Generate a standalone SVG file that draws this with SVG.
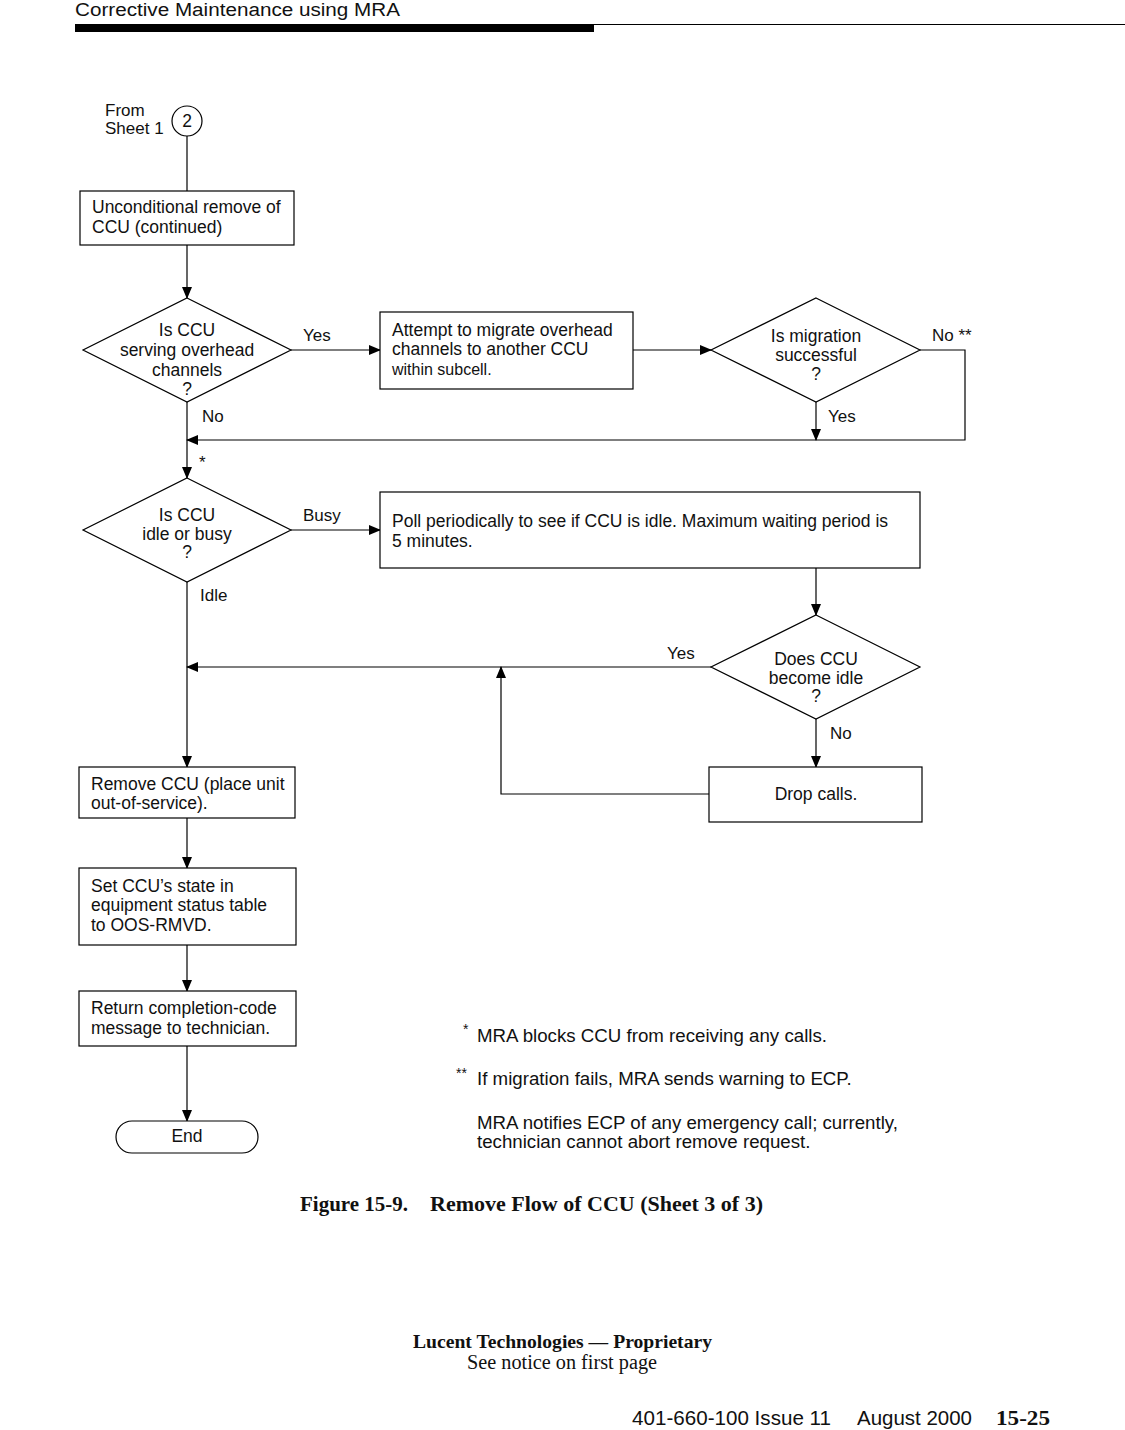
<svg xmlns="http://www.w3.org/2000/svg" width="1125" height="1430" viewBox="0 0 1125 1430">
<defs>
<marker id="arr" markerWidth="12" markerHeight="10" refX="11" refY="5" orient="auto" markerUnits="userSpaceOnUse">
<path d="M0,0 L12,5 L0,10 Z" fill="#000"/>
</marker>
</defs>
<style>
.t{font-family:"Liberation Sans",Arial,sans-serif;font-size:17.5px;fill:#111}
.l{font-size:17px}
.c{text-anchor:middle}
.box{fill:#fff;stroke:#000;stroke-width:1.2}
.ln{fill:none;stroke:#000;stroke-width:1.2}
.s{font-family:"Liberation Serif","Times New Roman",serif;fill:#111}
.n{font-size:18.7px}
</style>
<rect width="1125" height="1430" fill="#fff"/>
<!-- header -->
<text x="75" y="16" class="t" style="font-size:18px" textLength="325" lengthAdjust="spacingAndGlyphs">Corrective Maintenance using MRA</text>
<line x1="75" y1="24.5" x2="1125" y2="24.5" stroke="#000" stroke-width="1"/>
<rect x="75" y="25" width="519" height="7" fill="#000"/>

<g id="connectors">
<line class="ln" x1="187" y1="136" x2="187" y2="191"/>
<line class="ln" x1="187" y1="245" x2="187" y2="298" marker-end="url(#arr)"/>
<line class="ln" x1="291" y1="350" x2="380" y2="350" marker-end="url(#arr)"/>
<line class="ln" x1="633" y1="350" x2="711" y2="350" marker-end="url(#arr)"/>
<polyline class="ln" points="920,350 965,350 965,440 187,440" marker-end="url(#arr)"/>
<line class="ln" x1="816" y1="402" x2="816" y2="440" marker-end="url(#arr)"/>
<line class="ln" x1="187" y1="402" x2="187" y2="478" marker-end="url(#arr)"/>
<line class="ln" x1="291" y1="530" x2="380" y2="530" marker-end="url(#arr)"/>
<line class="ln" x1="816" y1="568" x2="816" y2="615" marker-end="url(#arr)"/>
<line class="ln" x1="711" y1="667" x2="187" y2="667" marker-end="url(#arr)"/>
<polyline class="ln" points="709,794 501,794 501,667" marker-end="url(#arr)"/>
<line class="ln" x1="816" y1="719" x2="816" y2="767" marker-end="url(#arr)"/>
<line class="ln" x1="187" y1="582" x2="187" y2="767" marker-end="url(#arr)"/>
<line class="ln" x1="187" y1="818" x2="187" y2="868" marker-end="url(#arr)"/>
<line class="ln" x1="187" y1="945" x2="187" y2="991" marker-end="url(#arr)"/>
<line class="ln" x1="187" y1="1046" x2="187" y2="1121" marker-end="url(#arr)"/>
<text x="303" y="341" class="t l">Yes</text>
<text x="932" y="341" class="t l">No **</text>
<text x="828" y="422" class="t l">Yes</text>
<text x="202" y="422" class="t l">No</text>
<text x="199" y="468" class="t l">*</text>
<text x="303" y="521" class="t l">Busy</text>
<text x="200" y="601" class="t l">Idle</text>
<text x="667" y="659" class="t l">Yes</text>
<text x="830" y="739" class="t l">No</text>
</g>

<g id="start">
<circle cx="187" cy="121" r="15" class="box"/>
<text x="187" y="127" class="t c">2</text>
<text x="105" y="116" class="t l">From</text>
<text x="105" y="134" class="t l">Sheet 1</text>
</g>
<g id="box-unconditional">
<rect x="80" y="191" width="214" height="54" class="box"/>
<text x="92" y="213" class="t">Unconditional remove of</text>
<text x="92" y="233" class="t">CCU (continued)</text>
</g>
<g id="dec-overhead">
<polygon points="187,298 291,350 187,402 83,350" class="box"/>
<text x="187" y="336" class="t c">Is CCU</text>
<text x="187" y="356" class="t c">serving overhead</text>
<text x="187" y="376" class="t c">channels</text>
<text x="187" y="395" class="t c">?</text>
</g>
<g id="box-migrate">
<rect x="380" y="312" width="253" height="77" class="box"/>
<text x="392" y="336" class="t">Attempt to migrate overhead</text>
<text x="392" y="355" class="t">channels to another CCU</text>
<text x="392" y="375" class="t" style="font-size:16px">within subcell.</text>
</g>
<g id="dec-migration">
<polygon points="816,298 920,350 816,402 711,350" class="box"/>
<text x="816" y="342" class="t c">Is migration</text>
<text x="816" y="361" class="t c">successful</text>
<text x="816" y="380" class="t c">?</text>
</g>
<g id="dec-idle">
<polygon points="187,478 291,530 187,582 83,530" class="box"/>
<text x="187" y="521" class="t c">Is CCU</text>
<text x="187" y="540" class="t c">idle or busy</text>
<text x="187" y="558" class="t c">?</text>
</g>
<g id="box-poll">
<rect x="380" y="492" width="540" height="76" class="box"/>
<text x="392" y="527" class="t">Poll periodically to see if CCU is idle. Maximum waiting period is</text>
<text x="392" y="547" class="t">5 minutes.</text>
</g>
<g id="dec-become">
<polygon points="816,615 920,667 816,719 711,667" class="box"/>
<text x="816" y="665" class="t c">Does CCU</text>
<text x="816" y="684" class="t c">become idle</text>
<text x="816" y="702" class="t c">?</text>
</g>
<g id="box-drop">
<rect x="709" y="767" width="213" height="55" class="box"/>
<text x="816" y="800" class="t c">Drop calls.</text>
</g>
<g id="box-remove">
<rect x="79" y="767" width="216" height="51" class="box"/>
<text x="91" y="790" class="t">Remove CCU (place unit</text>
<text x="91" y="809" class="t">out-of-service).</text>
</g>
<g id="box-set">
<rect x="79" y="868" width="217" height="77" class="box"/>
<text x="91" y="892" class="t">Set CCU’s state in</text>
<text x="91" y="911" class="t">equipment status table</text>
<text x="91" y="931" class="t">to OOS-RMVD.</text>
</g>
<g id="box-return">
<rect x="79" y="991" width="217" height="55" class="box"/>
<text x="91" y="1014" class="t">Return completion-code</text>
<text x="91" y="1034" class="t">message to technician.</text>
</g>
<g id="end">
<rect x="116" y="1121" width="142" height="32" rx="16" class="box"/>
<text x="187" y="1142" class="t c">End</text>
</g>

<g id="notes">
<text x="463" y="1034" class="t" style="font-size:14px">*</text>
<text x="477" y="1042" class="t n">MRA blocks CCU from receiving any calls.</text>
<text x="456" y="1078" class="t" style="font-size:14px">**</text>
<text x="477" y="1085" class="t n">If migration fails, MRA sends warning to ECP.</text>
<text x="477" y="1129" class="t n">MRA notifies ECP of any emergency call; currently,</text>
<text x="477" y="1148" class="t n">technician cannot abort remove request.</text>
</g>

<text x="300" y="1211" class="s" style="font-size:21px;font-weight:bold" textLength="108" lengthAdjust="spacingAndGlyphs">Figure 15-9.</text>
<text x="430" y="1211" class="s" style="font-size:21px;font-weight:bold" textLength="333" lengthAdjust="spacingAndGlyphs">Remove Flow of CCU (Sheet 3 of 3)</text>
<text x="413" y="1348" class="s" style="font-size:19.5px;font-weight:bold" textLength="299" lengthAdjust="spacingAndGlyphs">Lucent Technologies — Proprietary</text>
<text x="467" y="1369" class="s" style="font-size:20px" textLength="190" lengthAdjust="spacingAndGlyphs">See notice on first page</text>
<text x="632" y="1425" class="t" style="font-size:20.5px" textLength="199" lengthAdjust="spacingAndGlyphs">401-660-100 Issue 11</text>
<text x="857" y="1425" class="t" style="font-size:20.5px" textLength="115" lengthAdjust="spacingAndGlyphs">August 2000</text>
<text x="996" y="1425" class="s" style="font-size:21px;font-weight:bold" textLength="54" lengthAdjust="spacingAndGlyphs">15-25</text>
</svg>
